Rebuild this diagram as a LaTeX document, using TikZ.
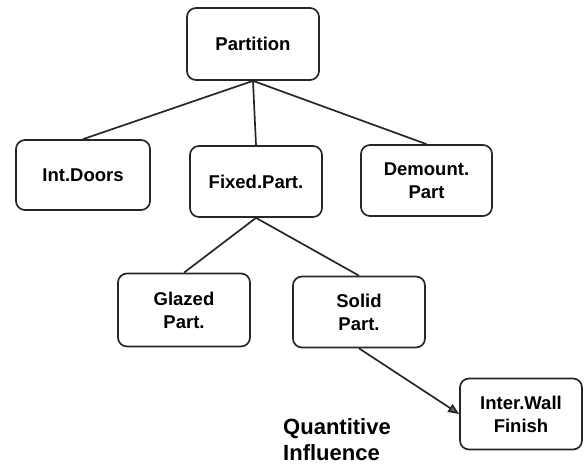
\documentclass[tikz,border=0pt]{standalone}
\usepackage{fontspec}
\setmainfont{Liberation Sans}
\usetikzlibrary{arrows.meta}
\begin{document}
\begin{tikzpicture}[x=1pt,y=-1pt,
  box/.style={draw=black!85, line width=1.7pt, rounded corners=9pt, fill=white,
    align=center, font=\fontsize{18.5}{23}\selectfont\bfseries, inner sep=0pt},
  link/.style={draw=black!85, line width=1.7pt},
  arrowlink/.style={link, -{Triangle[length=11pt,width=9pt,fill=black!60]}}]
  \useasboundingbox (0,0) rectangle (584,466);
  % hierarchy boxes
  \node[box, minimum width=132pt, minimum height=72pt] (part)   at (253,44)    {Partition};
  \node[box, minimum width=134pt, minimum height=70pt] (doors)  at (83,175)    {Int.Doors};
  \node[box, minimum width=132pt, minimum height=71pt] (fixed)  at (256,181.5) {Fixed.Part.};
  \node[box, minimum width=131pt, minimum height=71pt] (demnt)  at (426.5,180.5) {Demount.\\Part};
  \node[box, minimum width=132pt, minimum height=73pt] (glazed) at (184,310)   {Glazed\\Part.};
  \node[box, minimum width=132pt, minimum height=71pt] (solid)  at (359,312)   {Solid\\Part.};
  \node[box, minimum width=122pt, minimum height=71pt] (wall)   at (521,414)   {Inter.Wall\\Finish};
  % free label
  \node[align=left, inner sep=0pt, font=\fontsize{22}{26}\selectfont\bfseries] (quant) at (337,440) {Quantitive\\Influence};
  % connectors
  \draw[link] (part.south) -- (doors.north);
  \draw[link] (part.south) -- (fixed.north);
  \draw[link] (part.south) -- (demnt.north);
  \draw[link] (fixed.south) -- (glazed.north);
  \draw[link] (fixed.south) -- (solid.north);
  \draw[arrowlink] (solid.south) -- (wall.west);
\end{tikzpicture}
\end{document}
